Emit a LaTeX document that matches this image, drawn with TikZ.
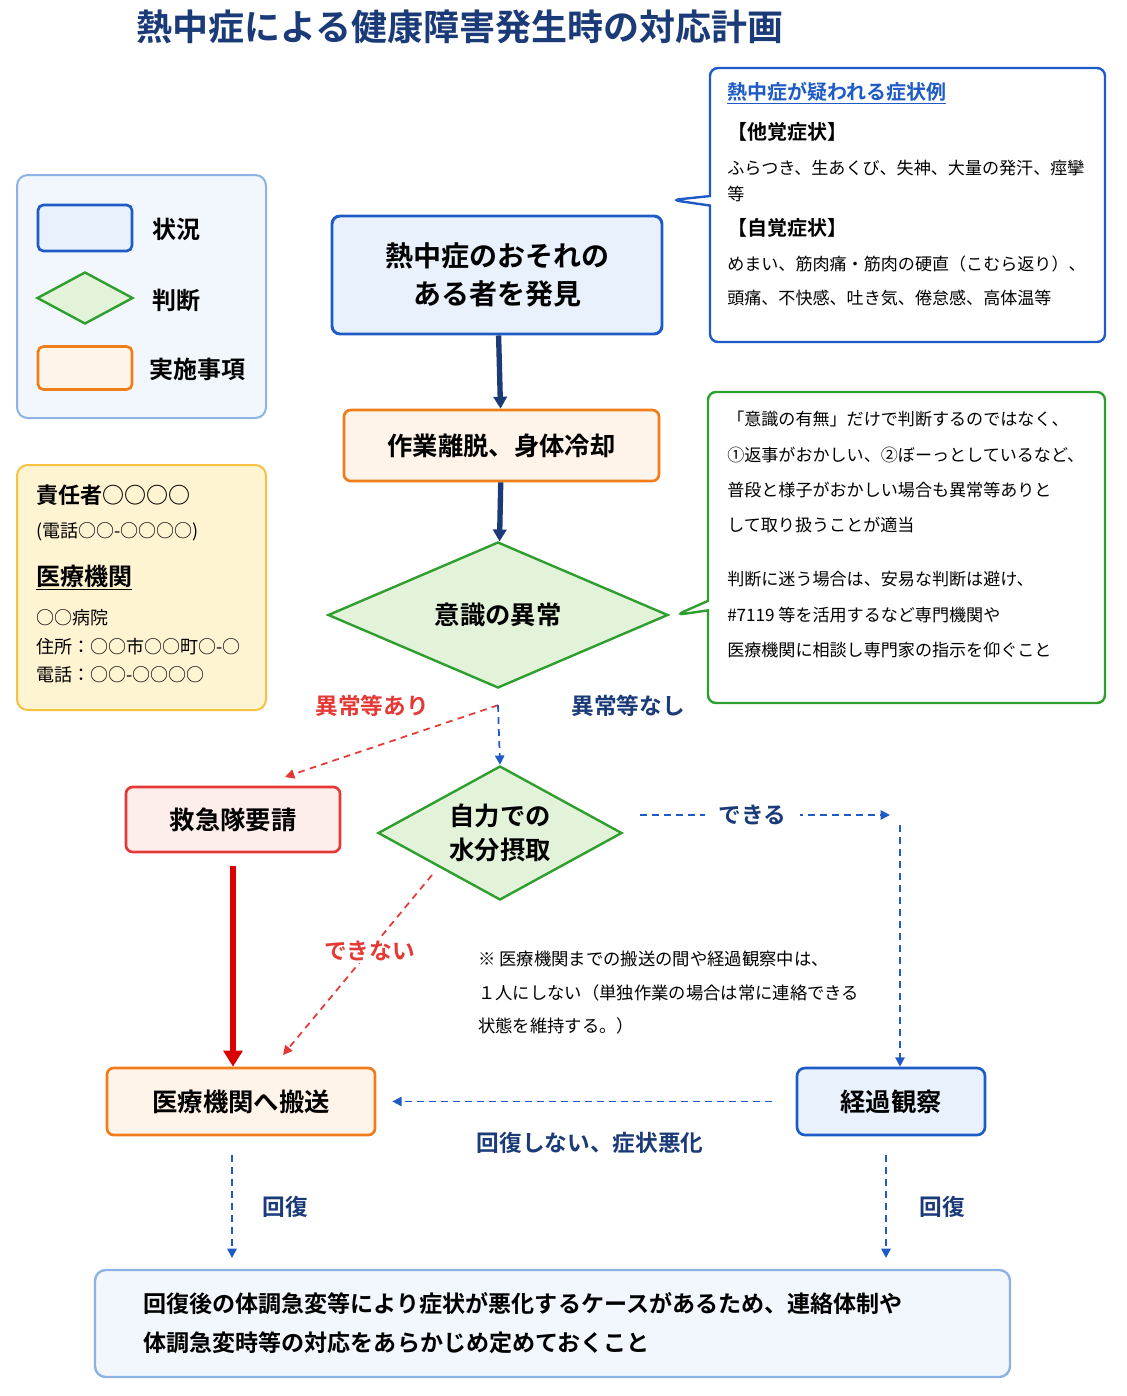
\documentclass[tikz,border=0pt]{standalone}
\usepackage{fontspec}
\setmainfont{Noto Sans CJK JP}[BoldFont={* Bold}]
\usetikzlibrary{shapes.geometric,shapes.callouts,arrows.meta}
\definecolor{navy}{HTML}{1B3A78}
\definecolor{bblue}{HTML}{1E5BC6}
\definecolor{lblue}{HTML}{E8F1FC}
\definecolor{orng}{HTML}{F07D1A}
\definecolor{lorng}{HTML}{FFF4EA}
\definecolor{grn}{HTML}{2E9E2E}
\definecolor{lgrn}{HTML}{E3F3DA}
\definecolor{rd}{HTML}{E53935}
\definecolor{lrd}{HTML}{FDEDEB}
\definecolor{ylw}{HTML}{F5C242}
\definecolor{lylw}{HTML}{FFF4D2}
\definecolor{lgbd}{HTML}{8DB3E2}
\tikzset{
  sz/.style 2 args={minimum width=#1*0.75pt, minimum height=#2*0.75pt},
  state/.style={draw=bblue, fill=lblue, line width=2.2pt, rounded corners=6, align=center, font=\bfseries\fontsize{21}{29}\selectfont, inner sep=0pt},
  act/.style={draw=orng, fill=lorng, line width=2pt, rounded corners=5, align=center, font=\bfseries\fontsize{19}{25}\selectfont, inner sep=0pt},
  judge/.style={diamond, draw=grn, fill=lgrn, line width=1.8pt, align=center, font=\bfseries\fontsize{19}{26}\selectfont, inner sep=0pt},
  small/.style={align=left, font=\fontsize{12.8}{26}\selectfont, inner sep=0pt, anchor=north west},
  lab/.style={font=\bfseries\fontsize{17}{20}\selectfont, inner sep=2pt},
  flow/.style={-{Triangle[length=9pt,width=10pt]}, navy, line width=4pt},
  dashb/.style={-{Triangle[length=7pt,width=7pt]}, bblue, line width=1.3pt, dash pattern=on 5pt off 4pt},
  dashr/.style={-{Triangle[length=7pt,width=7pt]}, rd, line width=1.3pt, dash pattern=on 5pt off 4pt},
}
\begin{document}
\begin{tikzpicture}[x=0.75pt,y=-0.75pt]
\useasboundingbox (0,0) rectangle (1127,1396);
% title
\node (title) [font=\bfseries\fontsize{27}{30}\selectfont, text=navy] at (460,27) {熱中症による健康障害発生時の対応計画};
% legend
\node (legend) [draw=lgbd, fill=lblue!60, line width=1.5pt, rounded corners=8, sz={249}{243}] at (141.5,296.5) {};
\node (lgstate) [draw=bblue, fill=lblue, line width=2pt, rounded corners=4, sz={94}{46}] at (85,228) {};
\node (lgjudge) [diamond, draw=grn, fill=lgrn, line width=1.8pt, sz={96}{52}, aspect=1.85, inner sep=0pt] at (85,298) {};
\node (lgact) [draw=orng, fill=lorng, line width=2pt, rounded corners=4, sz={94}{43}] at (85,368) {};
\node [lab, font=\bfseries\fontsize{18}{20}\selectfont, anchor=west] at (150,229) {状況};
\node [lab, font=\bfseries\fontsize{18}{20}\selectfont, anchor=west] at (150,300) {判断};
\node [lab, font=\bfseries\fontsize{18}{20}\selectfont, anchor=west] at (147,369) {実施事項};
% contact info
\node (info) [draw=ylw, fill=lylw, line width=1.5pt, rounded corners=8, sz={249}{245}] at (141.5,587.5) {};
\node [small, font=\fontsize{13.5}{21.5}\selectfont] at (36,485) {\textbf{\fontsize{16.5}{20}\selectfont 責任者○○○○}\\[4pt](電話○○-○○○○)\\[14pt]\textbf{\fontsize{18}{20}\selectfont\underline{医療機関}}\\[8pt]○○病院\\住所：○○市○○町○-○\\電話：○○-○○○○};
% symptom callout
\node (symptom) [rectangle callout, draw=bblue, fill=white, line width=1.8pt, rounded corners=6, sz={395}{274}, callout absolute pointer={(672,200)}] at (907.5,205) {};
\node [small] at (727,82) {\textbf{\textcolor{bblue}{\fontsize{15}{20}\selectfont\underline{熱中症が疑われる症状例}}}\\[4pt]\textbf{\fontsize{15}{20}\selectfont【他覚症状】}\\ふらつき、生あくび、失神、大量の発汗、痙攣\\[-6pt]等\\[0pt]\textbf{\fontsize{15}{20}\selectfont【自覚症状】}\\めまい、筋肉痛・筋肉の硬直（こむら返り）、\\頭痛、不快感、吐き気、倦怠感、高体温等};
% note callout
\node (note) [rectangle callout, draw=grn, fill=white, line width=1.8pt, rounded corners=6, sz={397}{311}, callout absolute pointer={(676,615)}] at (906.5,547.5) {};
\node [small, font=\fontsize{12.8}{26.5}\selectfont] at (727,411) {「意識の有無」だけで判断するのではなく、\\①返事がおかしい、②ぼーっとしているなど、\\普段と様子がおかしい場合も異常等ありと\\して取り扱うことが適当\\[14pt]判断に迷う場合は、安易な判断は避け、\\\#7119 等を活用するなど専門機関や\\医療機関に相談し専門家の指示を仰ぐこと};
% main flow
\node (find) [state, sz={330}{118}] at (497,275) {熱中症のおそれの\\ある者を発見};
\node (cool) [act, sz={315}{71}] at (501.5,445.5) {作業離脱、身体冷却};
\node (conscious) [judge, sz={340}{146}, aspect=2.33] at (498,615) {意識の異常};
\node (call) [act, draw=rd, fill=lrd, sz={214}{65}] at (233,819.5) {救急隊要請};
\node (water) [judge, sz={244}{134}, aspect=1.82] at (500,833) {自力での\\水分摂取};
\node (hosp) [act, sz={268}{67}] at (241,1101.5) {医療機関へ搬送};
\node (watch) [state, line width=2pt, font=\bfseries\fontsize{19}{25}\selectfont, sz={188}{67}] at (891,1101.5) {経過観察};
\node (final) [draw=lgbd, fill=lblue!60, line width=1.8pt, rounded corners=8, sz={915}{107}] at (552.5,1323.5) {};
\node [align=left, font=\bfseries\fontsize{17.3}{29}\selectfont, anchor=west, inner sep=0pt] at (143,1323) {回復後の体調急変等により症状が悪化するケースがあるため、連絡体制や\\体調急変時等の対応をあらかじめ定めておくこと};
\node (remark) [small, font=\fontsize{13}{25}\selectfont] at (478,951) {※ 医療機関までの搬送の間や経過観察中は、\\１人にしない（単独作業の場合は常に連絡できる\\状態を維持する。）};
% connectors
\coordinate (okstart) at (640,815);
\coordinate (okturn) at (890,815);
\coordinate (hospin) at (283,1055);
\draw[flow] (find) -- (cool);
\draw[flow] (cool) -- (conscious);
\draw[dashr] ([yshift=-12]conscious.south) -- (285,777);
\draw[dashb] ([yshift=-12]conscious.south) -- (water.north);
\node [lab, text=rd] at (372,706) {異常等あり};
\node [lab, text=navy] at (628,706) {異常等なし};
\draw[dashb] (okstart) -- (okturn) node [pos=0.45, fill=white, lab, text=navy, inner xsep=10pt] {できる};
\draw[dashb] (900,825) -- (watch.north -| 900,0);
\draw[-{Triangle[length=12pt,width=14pt]}, red!85!black, line width=4.5pt] (call.south |- 0,866) -- (call.south |- hosp.north);
\draw[dashr] (432,875) -- (hospin) node [pos=0.42, fill=white, lab, text=rd] {できない};
\draw[dashb] ([xshift=-18]watch.west) -- ([xshift=12]hosp.east);
\node [lab, text=navy] at (590,1143) {回復しない、症状悪化};
\draw[dashb] ([yshift=-14]hosp.south -| 232,0) -- (232,1258);
\draw[dashb] ([yshift=-14]watch.south -| 886,0) -- (886,1258);
\node [lab, text=navy] at (285,1207) {回復};
\node [lab, text=navy] at (942,1207) {回復};
\end{tikzpicture}
\end{document}
